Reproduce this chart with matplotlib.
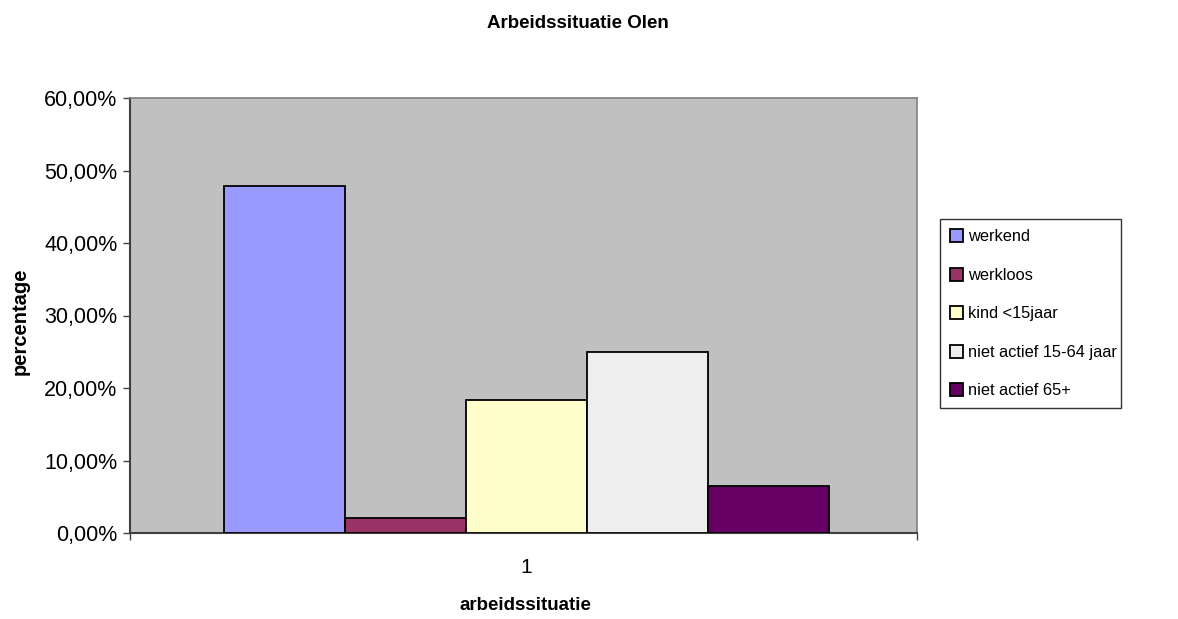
import numpy as np
import matplotlib.pyplot as plt
from matplotlib.ticker import FuncFormatter

categories = ['werkend', 'werkloos', 'kind <15jaar', 'niet actief 15-64 jaar', 'niet actief 65+']
values = [47.9, 2.1, 18.4, 25.0, 6.5]
colors = ['#9999FF', '#993366', '#FFFFCC', '#EEEEEE', '#660066']
group_labels = ['1']

plt.rcParams['font.family'] = ['Liberation Sans', 'DejaVu Sans']

W, H = 1178, 619
fig = plt.figure(figsize=(W / 100, H / 100), dpi=100)
ax = fig.add_axes([130 / W, 1 - 533 / H, (917 - 130) / W, (533 - 98) / H])
ax.set_facecolor('#C0C0C0')

# bars of one group, side by side
n = len(values)
width = 0.769 / n
for i, (cat, val, col) in enumerate(zip(categories, values, colors)):
    x = 1 + (i - (n - 1) / 2) * width
    ax.bar(x, val, width=width, color=col, edgecolor='black', linewidth=1.3, label=cat, zorder=3)

ax.set_xlim(0.496, 1.496)
ax.set_ylim(0, 60)
ax.set_yticks(np.arange(0, 61, 10))
ax.yaxis.set_major_formatter(FuncFormatter(lambda v, p: ('%.2f%%' % v).replace('.', ',')))
ax.set_xticks([1])
ax.set_xticklabels(group_labels)
ax.set_xticks([0.496, 1.496], minor=True)
ax.tick_params(axis='x', which='major', length=0, labelsize=15, pad=18)
ax.tick_params(axis='x', which='minor', length=5, color='#404040', width=1)
ax.tick_params(axis='y', length=5, color='#404040', width=1, labelsize=15.5, pad=4)

for side in ['left', 'bottom']:
    ax.spines[side].set_color('#404040')
    ax.spines[side].set_linewidth(1.5)
for side in ['top', 'right']:
    ax.spines[side].set_color('#808080')
    ax.spines[side].set_linewidth(1.2)

fig.text(578 / W, 1 - 23 / H, 'Arbeidssituatie Olen', ha='center', va='center',
         fontsize=13.5, fontweight='bold')
fig.text(525 / W, 1 - 605 / H, 'arbeidssituatie', ha='center', va='center',
         fontsize=13.5, fontweight='bold')
fig.text(20 / W, 1 - 321 / H, 'percentage', ha='center', va='center',
         fontsize=14.5, fontweight='bold', rotation=90)

leg = fig.legend(loc='upper left', bbox_to_anchor=(940 / W, 1 - 219 / H, (1121 - 940) / W, 0.0),
                 mode='expand', frameon=True, fancybox=False, fontsize=11.8,
                 handlelength=0.8, handleheight=0.85, handletextpad=0.3,
                 labelspacing=1.42, borderpad=0.62, borderaxespad=0)
leg.get_frame().set_edgecolor('black')
leg.get_frame().set_linewidth(1.0)

fig.savefig('out.png', dpi=100)
